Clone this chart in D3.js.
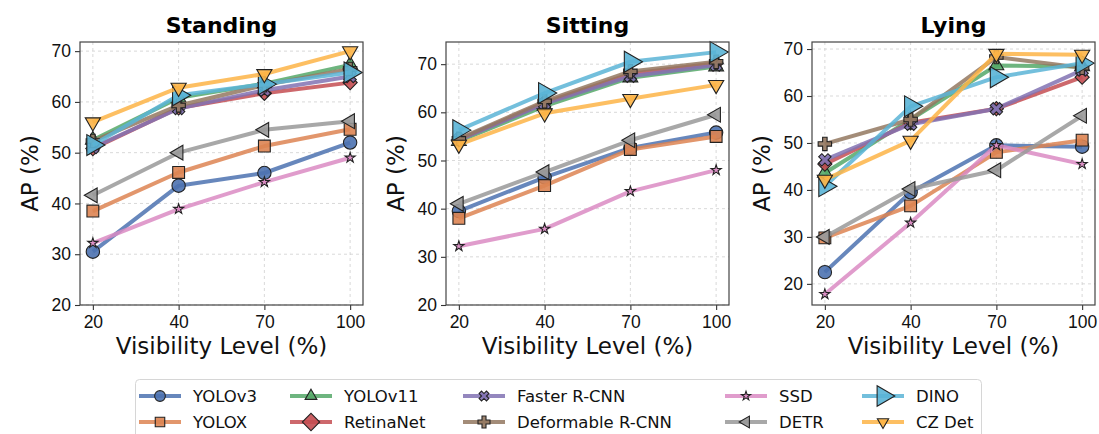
<!DOCTYPE html>
<html>
<head>
<meta charset="utf-8">
<script src="https://cdn.jsdelivr.net/npm/d3@7"></script>
<style>
  html, body { margin: 0; padding: 0; background: #fff; }
  svg { display: block; font-family: "DejaVu Sans", sans-serif; }
  .grid line { stroke: #cfcfcf; stroke-width: 0.8; stroke-dasharray: 3,3; }
  .tick-label { font-size: 17.5px; fill: #111; }
  .axis-label { font-size: 23px; fill: #111; }
  .title { font-size: 22px; font-weight: bold; fill: #000; }
  .legend-text { font-size: 16.5px; fill: #111; }
</style>
</head>
<body>
<svg width="1099" height="434"></svg>
<script>
// --- Data ---
const models = ["YOLOv3", "YOLOX", "YOLOv11", "RetinaNet", "Faster R-CNN",
                "Deformable R-CNN", "SSD", "DETR", "DINO", "CZ Det"];
const levels = ["20", "40", "70", "100"];
const panelTitles = ["Standing", "Sitting", "Lying"];
const yTicks = [20, 30, 40, 50, 60, 70];
const yDomains = [[20, 71.8], [20, 74.6], [15.5, 71.5]];

const standingAP = [
  [30.5, 43.5, 46.0, 52.0],
  [38.5, 46.1, 51.3, 54.6],
  [52.5, 60.8, 63.6, 67.3],
  [50.8, 58.8, 61.7, 63.8],
  [51.0, 58.7, 62.3, 65.0],
  [52.3, 59.3, 63.3, 66.5],
  [32.2, 38.9, 44.2, 49.0],
  [41.6, 50.0, 54.5, 56.2],
  [51.5, 61.3, 63.5, 65.8],
  [56.0, 62.8, 65.5, 70.0]
];
const sittingAP = [
  [39.5, 46.5, 52.6, 55.8],
  [38.0, 44.8, 52.3, 55.0],
  [54.0, 61.3, 67.2, 69.5],
  [54.3, 62.0, 68.0, 70.2],
  [54.3, 61.8, 67.5, 69.8],
  [54.5, 62.3, 68.5, 70.5],
  [32.2, 35.8, 43.6, 48.0],
  [41.0, 47.6, 54.2, 59.5],
  [56.3, 64.0, 70.5, 72.5],
  [53.3, 59.8, 62.8, 65.7]
];
const lyingAP = [
  [22.5, 39.5, 49.5, 49.2],
  [29.8, 36.6, 48.0, 50.6],
  [43.6, 55.0, 66.5, 66.3],
  [45.5, 54.3, 57.3, 64.0],
  [46.4, 54.0, 57.3, 65.5],
  [49.8, 55.0, 68.3, 66.0],
  [17.8, 33.0, 49.5, 45.5],
  [30.0, 40.2, 44.2, 55.8],
  [40.8, 57.8, 64.0, 67.0],
  [42.2, 50.5, 69.0, 68.8]
];
const panelData = [standingAP, sittingAP, lyingAP];

// --- Styles ---
const colors = ["#4C72B0", "#DD8452", "#55A868", "#C44E52", "#8172B3",
                "#937860", "#DA8BC3", "#999999", "#5AB4D6", "#FDB446"];
// marker kinds: o s ^ D X P * < > v
const markerKinds = ["circle", "square", "up", "diamond", "x", "plus", "star", "left", "right", "down"];
const markerSizes = [140, 140, 95, 100, 95, 100, 32, 95, 190, 100];
const legendSizes = [90, 90, 60, 150, 60, 80, 26, 60, 180, 55];

const svg = d3.select("svg");
svg.append("rect").attr("width", 1099).attr("height", 434).attr("fill", "#fff");

function symbolPath(kind, size) {
  const T = d3.symbolTriangle, S = d3.symbolSquare, C = d3.symbolCross;
  const lookup = {
    circle: [d3.symbolCircle, 0], square: [S, 0], diamond: [S, 45],
    x: [C, 45], plus: [C, 0], star: [d3.symbolStar, 0],
    up: [T, 0], right: [T, 90], down: [T, 180], left: [T, 270]
  };
  const [type, rot] = lookup[kind];
  return { d: d3.symbol().type(type).size(size)(), rot };
}

function drawMarker(g, kind, size, color, x, y) {
  const s = symbolPath(kind, size);
  g.append("path")
    .attr("d", s.d)
    .attr("transform", `translate(${x},${y}) rotate(${s.rot})`)
    .attr("fill", color)
    .attr("fill-opacity", 0.9)
    .attr("stroke", "#222")
    .attr("stroke-width", 1.1);
}

const panelLefts = [80, 446, 812];
const plotW = 283, plotTop = 42, plotH = 263;

panelTitles.forEach((title, p) => {
  const left = panelLefts[p];
  const g = svg.append("g").attr("transform", `translate(${left},${plotTop})`);
  const x = d3.scalePoint().domain(levels).range([0, plotW]).padding(0.15);
  const y = d3.scaleLinear().domain(yDomains[p]).range([plotH, 0]);

  // grid
  const grid = g.append("g").attr("class", "grid");
  grid.selectAll("line.h").data(yTicks).join("line").attr("class", "h")
    .attr("x1", 0).attr("x2", plotW).attr("y1", d => y(d)).attr("y2", d => y(d));
  grid.selectAll("line.v").data(levels).join("line").attr("class", "v")
    .attr("x1", d => x(d)).attr("x2", d => x(d)).attr("y1", 0).attr("y2", plotH);

  // series
  const line = d3.line().x((d, i) => x(levels[i])).y(d => y(d));
  panelData[p].forEach((vals, m) => {
    g.append("path")
      .attr("d", line(vals))
      .attr("fill", "none")
      .attr("stroke", colors[m])
      .attr("stroke-opacity", 0.85)
      .attr("stroke-width", 4)
      .attr("stroke-linejoin", "round");
    vals.forEach((v, i) => drawMarker(g, markerKinds[m], markerSizes[m], colors[m], x(levels[i]), y(v)));
  });

  // axes
  const yAxis = g.append("g").call(d3.axisLeft(y).tickValues(yTicks).tickSize(5).tickPadding(4));
  const xAxis = g.append("g").attr("transform", `translate(0,${plotH})`)
    .call(d3.axisBottom(x).tickSize(5).tickPadding(5));
  [yAxis, xAxis].forEach(a => {
    a.select(".domain").remove();
    a.selectAll(".tick line").attr("stroke", "#333").attr("stroke-width", 1.1);
    a.selectAll(".tick text").attr("class", "tick-label").attr("font-family", null).attr("font-size", null);
  });
  xAxis.selectAll(".tick text").attr("dy", "0.72em");

  // frame
  g.append("rect").attr("width", plotW).attr("height", plotH)
    .attr("fill", "none").attr("stroke", "#444").attr("stroke-width", 1.2);

  g.append("text").attr("class", "title").attr("text-anchor", "middle")
    .attr("x", plotW / 2).attr("y", -9).text(title);
  g.append("text").attr("class", "axis-label").attr("text-anchor", "middle")
    .attr("x", plotW / 2).attr("y", plotH + 49).text("Visibility Level (%)");
  g.append("text").attr("class", "axis-label").attr("text-anchor", "middle")
    .attr("transform", `translate(-42,${plotH / 2}) rotate(-90)`).text("AP (%)");
});

// --- Legend ---
const legend = svg.append("g");
legend.append("rect").attr("x", 135.5).attr("y", 379.5).attr("width", 846).attr("height", 62)
  .attr("rx", 4).attr("fill", "#fff").attr("stroke", "#d6d6d6").attr("stroke-width", 1);
const colStarts = [139, 290, 463, 725, 862];
const rowYs = [396, 422];
models.forEach((name, m) => {
  const cx = colStarts[Math.floor(m / 2)];
  const cy = rowYs[m % 2];
  legend.append("line").attr("x1", cx).attr("x2", cx + 42).attr("y1", cy).attr("y2", cy)
    .attr("stroke", colors[m]).attr("stroke-opacity", 0.85).attr("stroke-width", 4);
  drawMarker(legend, markerKinds[m], legendSizes[m], colors[m], cx + 21, cy);
  legend.append("text").attr("class", "legend-text").attr("x", cx + 54).attr("y", cy)
    .attr("dy", "0.36em").text(name);
});
</script>
</body>
</html>
